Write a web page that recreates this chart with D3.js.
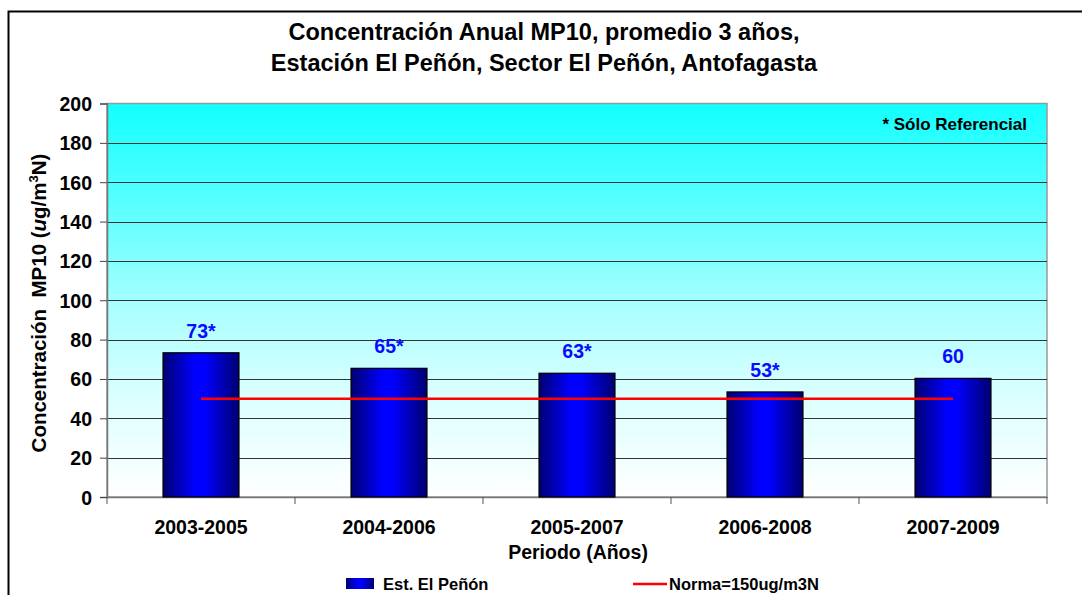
<!DOCTYPE html>
<html>
<head>
<meta charset="utf-8">
<script src="https://cdn.jsdelivr.net/npm/d3@7"></script>
<style>
  body { margin: 0; background: #fff; }
  text { font-family: "Liberation Sans", Arial, sans-serif; font-weight: bold; }
</style>
</head>
<body>
<div class="chart-container"></div>
<script>
const WIDTH = 1082;
const HEIGHT = 595;

// plot area
const plot = { left: 107, top: 103.5, right: 1047, bottom: 497 };

// data
const periods = ["2003-2005", "2004-2006", "2005-2007", "2006-2008", "2007-2009"];
const concentration = [73.3, 65.4, 62.9, 53.4, 60.3];
const valueLabels = ["73*", "65*", "63*", "53*", "60"];
const norma = [50, 50, 50, 50, 50];
const yTicks = [0, 20, 40, 60, 80, 100, 120, 140, 160, 180, 200];

const titleLines = [
  "Concentración Anual MP10, promedio 3 años,",
  "Estación El Peñón, Sector El Peñón, Antofagasta",
];

const svg = d3
  .select(".chart-container")
  .append("svg")
  .attr("width", WIDTH)
  .attr("height", HEIGHT);

const defs = svg.append("defs");

const bg = defs.append("linearGradient")
  .attr("id", "bg-grad")
  .attr("x1", 0).attr("y1", 0).attr("x2", 0).attr("y2", 1);
bg.append("stop").attr("offset", "0%").attr("stop-color", "#11ffff");
bg.append("stop").attr("offset", "30%").attr("stop-color", "#66ffff");
bg.append("stop").attr("offset", "52%").attr("stop-color", "#aaffff");
bg.append("stop").attr("offset", "75%").attr("stop-color", "#dcffff");
bg.append("stop").attr("offset", "100%").attr("stop-color", "#ffffff");

const barGrad = defs.append("linearGradient")
  .attr("id", "bar-grad")
  .attr("x1", 0).attr("y1", 0).attr("x2", 1).attr("y2", 0);
barGrad.append("stop").attr("offset", "0%").attr("stop-color", "#000070");
barGrad.append("stop").attr("offset", "42%").attr("stop-color", "#0000ff");
barGrad.append("stop").attr("offset", "55%").attr("stop-color", "#0000ff");
barGrad.append("stop").attr("offset", "100%").attr("stop-color", "#000070");

const addText = (parent, tx, ty, str, size, anchor) =>
  parent.append("text")
    .attr("x", tx)
    .attr("y", ty)
    .attr("text-anchor", anchor || "start")
    .attr("font-size", size + "px")
    .attr("fill", "#000")
    .text(str);

// outer chart frame (runs off the right and bottom edges)
svg.append("rect")
  .attr("x", 8.5).attr("y", 11.5)
  .attr("width", 1200).attr("height", 700)
  .attr("fill", "#fff")
  .attr("stroke", "#000")
  .attr("stroke-width", 2);

const x = d3.scaleBand()
  .domain(periods)
  .range([plot.left, plot.right])
  .paddingInner(0.596)
  .paddingOuter(0.298);

const y = d3.scaleLinear()
  .domain([0, 200])
  .range([plot.bottom, plot.top]);

// title
titleLines.forEach((t, i) => addText(svg, 544, 40 + i * 31, t, 23.5, "middle"));

// plot background
svg.append("rect")
  .attr("x", plot.left).attr("y", plot.top)
  .attr("width", plot.right - plot.left)
  .attr("height", plot.bottom - plot.top)
  .attr("fill", "url(#bg-grad)")
  .attr("stroke", "#999")
  .attr("stroke-width", 1.5);

// gridlines
svg.append("g")
  .selectAll("line")
  .data(yTicks.filter((d) => d > 0 && d < 200))
  .join("line")
  .attr("x1", plot.left).attr("x2", plot.right)
  .attr("y1", (d) => Math.round(y(d)) + 0.5)
  .attr("y2", (d) => Math.round(y(d)) + 0.5)
  .attr("stroke", "#333")
  .attr("stroke-width", 1);

// y axis
const yAxis = svg.append("g")
  .attr("transform", `translate(${plot.left},0)`)
  .call(d3.axisLeft(y).tickValues(yTicks).tickSize(7).tickPadding(8));
yAxis.select(".domain").attr("stroke", "#777").attr("stroke-width", 1.5);
yAxis.selectAll(".tick line").attr("stroke", "#444");
yAxis.selectAll(".tick text")
  .attr("font-size", "19.5px")
  .attr("font-family", "Liberation Sans, Arial, sans-serif")
  .attr("fill", "#000")
  .attr("dy", "0.36em");

// x axis
const xAxis = svg.append("g")
  .attr("transform", `translate(0,${plot.bottom})`)
  .call(d3.axisBottom(x).tickSize(0).tickPadding(0));
xAxis.select(".domain").attr("stroke", "#777").attr("stroke-width", 1.5);
xAxis.selectAll(".tick text")
  .attr("font-size", "19.5px")
  .attr("font-family", "Liberation Sans, Arial, sans-serif")
  .attr("fill", "#000")
  .attr("y", 37)
  .attr("dy", 0);

// category separators on x axis
svg.append("g")
  .selectAll("line")
  .data(d3.range(periods.length + 1))
  .join("line")
  .attr("x1", (d) => plot.left + d * x.step())
  .attr("x2", (d) => plot.left + d * x.step())
  .attr("y1", plot.bottom)
  .attr("y2", plot.bottom + 7)
  .attr("stroke", "#555")
  .attr("stroke-width", 1);

// bars
svg.append("g")
  .selectAll("rect")
  .data(periods)
  .join("rect")
  .attr("x", (d) => x(d))
  .attr("y", (d, i) => y(concentration[i]))
  .attr("width", x.bandwidth())
  .attr("height", (d, i) => plot.bottom - y(concentration[i]))
  .attr("fill", "url(#bar-grad)")
  .attr("stroke", "#000")
  .attr("stroke-width", 1.2);

// value labels
const labels = svg.append("g");
periods.forEach((p, i) => {
  addText(labels, x(p) + x.bandwidth() / 2, y(concentration[i]) - 15, valueLabels[i], 19.5, "middle")
    .attr("fill", "#0a0aff");
});

// norma line
const normaLine = d3.line()
  .x((d, i) => x(periods[i]) + x.bandwidth() / 2)
  .y((d) => y(d));

svg.append("path")
  .datum(norma)
  .attr("d", normaLine)
  .attr("fill", "none")
  .attr("stroke", "#ff0000")
  .attr("stroke-width", 2.5);

// note
addText(svg, 1027, 130, "* Sólo Referencial", 17, "end");

// y axis title
const yTitle = svg.append("text")
  .attr("text-anchor", "middle")
  .attr("font-size", "20.5px")
  .attr("transform", "translate(46,303) rotate(-90)")
  .attr("xml:space", "preserve");
yTitle.append("tspan").text("Concentración  MP10 (");
yTitle.append("tspan").attr("font-style", "italic").text("u");
yTitle.append("tspan").text("g/m");
yTitle.append("tspan").attr("font-size", "13px").attr("dy", "-8").text("3");
yTitle.append("tspan").attr("dy", "8").text("N)");

// x axis title
addText(svg, (plot.left + plot.right) / 2 + 1, 559, "Periodo (Años)", 19.5, "middle");

// legend
const legend = svg.append("g");
legend.append("rect")
  .attr("x", 346).attr("y", 578)
  .attr("width", 28).attr("height", 11)
  .attr("fill", "url(#bar-grad)");
addText(legend, 383, 590, "Est. El Peñón", 16.5);
legend.append("line")
  .attr("x1", 633).attr("x2", 667)
  .attr("y1", 584).attr("y2", 584)
  .attr("stroke", "#ff0000")
  .attr("stroke-width", 2.5);
addText(legend, 669, 590, "Norma=150ug/m3N", 16.5);
</script>
</body>
</html>
